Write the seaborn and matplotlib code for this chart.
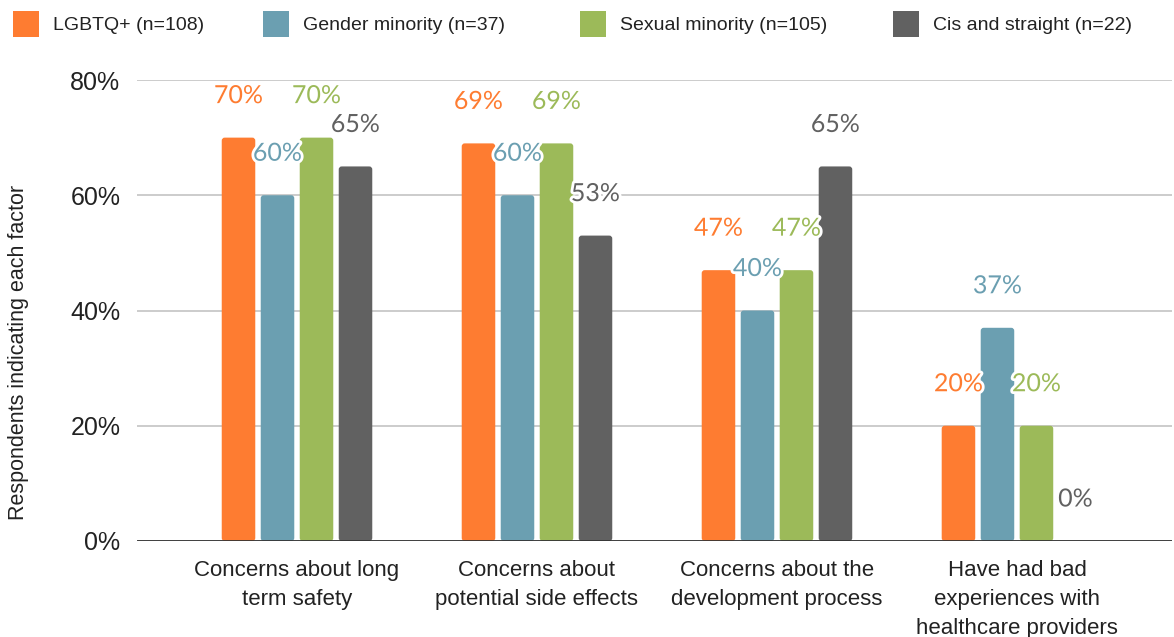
import matplotlib

matplotlib.use("Agg")
import matplotlib.patheffects as pe
import matplotlib.pyplot as plt
import pandas as pd
import seaborn as sns
from matplotlib.patches import FancyBboxPatch, Patch

# Data
factors = [
    "Concerns about long\nterm safety",
    "Concerns about\npotential side effects",
    "Concerns about the\ndevelopment process",
    "Have had bad\nexperiences with\nhealthcare providers",
]
groups = [
    "LGBTQ+ (n=108)",
    "Gender minority (n=37)",
    "Sexual minority (n=105)",
    "Cis and straight (n=22)",
]
lgbtq = [70, 69, 47, 20]
gender_minority = [60, 60, 40, 37]
sexual_minority = [70, 69, 47, 20]
cis_straight = [65, 53, 65, 0]
y_ticks = [0, 20, 40, 60, 80]

colors = ["#fe7c31", "#6b9fb1", "#9cba59", "#616161"]

series = [lgbtq, gender_minority, sexual_minority, cis_straight]
df = pd.DataFrame(
    {
        "factor": [f for _ in groups for f in factors],
        "group": [g for g in groups for _ in factors],
        "value": [v for s in series for v in s],
    }
)

sns.set_style("white")
plt.rcParams["font.family"] = ["Liberation Sans", "DejaVu Sans"]

W, H, DPI = 1174, 637, 100
fig = plt.figure(figsize=(W / DPI, H / DPI), dpi=DPI)
ax = fig.add_axes([137 / W, 1 - 541 / H, (1172 - 137) / W, (541 - 80) / H])

sns.barplot(
    data=df,
    x="factor",
    y="value",
    hue="group",
    hue_order=groups,
    order=factors,
    palette=colors,
    saturation=1,
    width=0.65,
    gap=0.14,
    legend=False,
    ax=ax,
    zorder=3,
)

# rounded tops like the original renderer
px_per_x = (1172 - 137) / (3.646 + 0.6667)
px_per_y = (541 - 80) / 80
radius_px = 3
for container, color in zip(ax.containers, colors):
    for bar in container:
        x, y = bar.get_x(), bar.get_y()
        w, h = bar.get_width(), bar.get_height()
        bar.set_visible(False)
        if h <= 0:
            continue
        rs = radius_px / px_per_x
        ax.add_patch(
            FancyBboxPatch(
                (x, y), w, h,
                boxstyle=f"round,pad=0,rounding_size={rs}",
                mutation_aspect=(radius_px / px_per_y) / rs,
                facecolor=color, edgecolor="none", zorder=3,
            )
        )

# value labels
for container, vals, color in zip(ax.containers, series, colors):
    for bar, v in zip(container, vals):
        ax.annotate(
            f"{v}%",
            (bar.get_x() + bar.get_width() / 2, v),
            xytext=(0, 42),
            textcoords="offset pixels",
            ha="center",
            va="center",
            fontsize=18,
            fontweight="normal",
            family=["Lato", "DejaVu Sans"],
            color=color,
            zorder=5,
            annotation_clip=False,
            path_effects=[pe.withStroke(linewidth=4, foreground="white")],
        )

ax.set_xlim(-0.6667, 3.646)
ax.set_ylim(0, 80)
ax.set_yticks(y_ticks)
ax.set_yticklabels([f"{t}%" for t in y_ticks])
ax.yaxis.grid(True, color="#cccccc", linewidth=1.4, zorder=0)
ax.set_axisbelow(True)
ax.axhline(0, color="#333333", linewidth=2, zorder=4)
for s in ax.spines.values():
    s.set_visible(False)

ax.tick_params(axis="y", length=0, pad=12, labelsize=18, labelcolor="#222222")
ax.tick_params(axis="x", length=0, pad=14, labelsize=16, labelcolor="#222222")
for lbl in ax.get_xticklabels():
    lbl.set_linespacing(1.5)

ax.set_xlabel("")
ax.set_ylabel("Respondents indicating each factor", fontsize=15.5, color="#222222")
ax.yaxis.set_label_coords((29 - 137) / (1172 - 137), 0.408)

# legend entries spaced like the reference
legend_x = [13, 263, 580, 893]
for g, c, lx in zip(groups, colors, legend_x):
    fig.legend(
        handles=[Patch(facecolor=c, edgecolor="none")],
        labels=[g],
        loc="upper left",
        bbox_to_anchor=(lx / W, 1 - 11 / H),
        frameon=False,
        fontsize=14,
        handlelength=1.34,
        handleheight=1.68,
        handletextpad=0.7,
        borderpad=0,
        borderaxespad=0,
        labelcolor="#222222",
    )

fig.savefig("out.png", dpi=DPI)
